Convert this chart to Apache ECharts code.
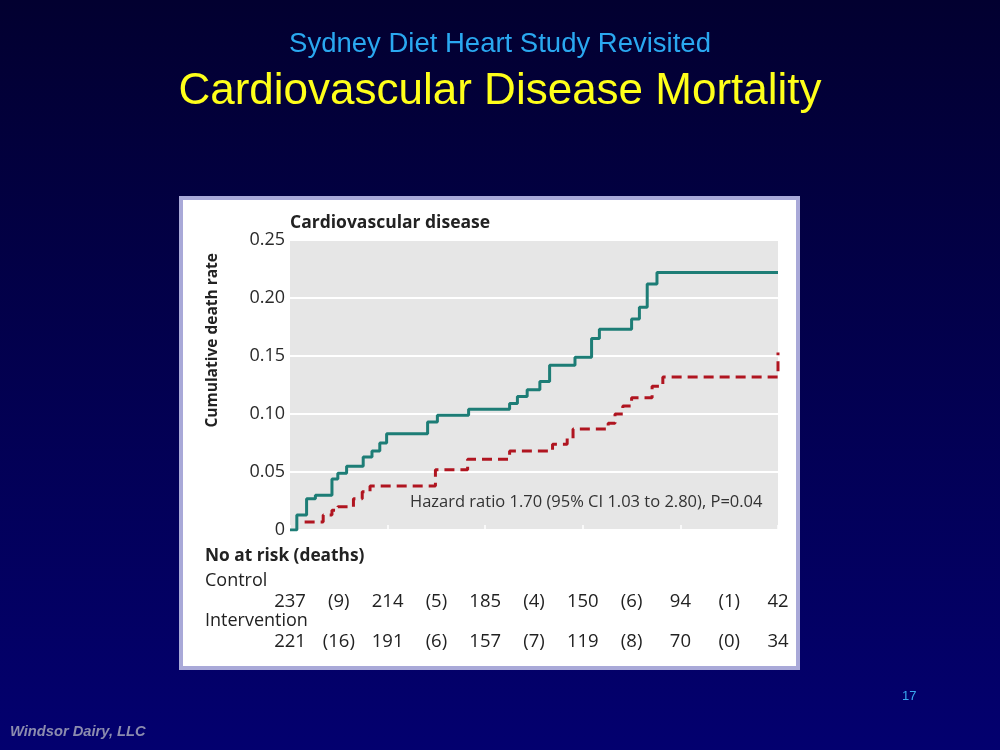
<!DOCTYPE html>
<html>
<head>
<meta charset="utf-8">
<style>
html,body{margin:0;padding:0;width:1000px;height:750px;overflow:hidden;background:#02003a;}
#c{width:1000px;height:750px;}
</style>
<script src="https://cdn.jsdelivr.net/npm/echarts@6/dist/echarts.min.js"></script>
</head>
<body>
<div id="c"></div>
<script>
// Year ticks on x axis
const yearTicks = [0, 1, 2, 3, 4, 5];
const yTickLabels = ['0', '0.05', '0.10', '0.15', '0.20', '0.25'];

// Control group (step points: time in years, cumulative death rate)
const controlT = [0, 0.07, 0.17, 0.26, 0.43, 0.49, 0.58, 0.75, 0.84, 0.92, 0.99, 1.41, 1.51, 1.83, 2.25, 2.33, 2.43, 2.56, 2.66, 2.92, 3.09, 3.17, 3.50, 3.58, 3.66, 3.76, 5.0];
const controlRate = [0, 0.013, 0.027, 0.030, 0.044, 0.049, 0.055, 0.063, 0.068, 0.075, 0.083, 0.093, 0.099, 0.104, 0.109, 0.115, 0.121, 0.128, 0.142, 0.149, 0.165, 0.173, 0.182, 0.192, 0.212, 0.222, 0.222];

// Intervention group
const interT = [0.15, 0.34, 0.43, 0.49, 0.65, 0.74, 0.82, 1.49, 1.82, 2.25, 2.69, 2.84, 2.90, 3.26, 3.33, 3.41, 3.50, 3.71, 3.82, 5.0, 5.0];
const interRate = [0.007, 0.013, 0.017, 0.020, 0.027, 0.033, 0.038, 0.052, 0.061, 0.068, 0.074, 0.079, 0.087, 0.092, 0.100, 0.107, 0.114, 0.124, 0.132, 0.132, 0.153];

// Number at risk (deaths) table
const tablePos = [0, 0.5, 1, 1.5, 2, 2.5, 3, 3.5, 4, 4.5, 5];
const controlRisk = ['237', '(9)', '214', '(5)', '185', '(4)', '150', '(6)', '94', '(1)', '42'];
const interRisk = ['221', '(16)', '191', '(6)', '157', '(7)', '119', '(8)', '70', '(0)', '34'];

const slideTitle = 'Sydney Diet Heart Study Revisited';
const slideMain = 'Cardiovascular Disease Mortality';
const chartTitle = 'Cardiovascular disease';
const yName = 'Cumulative death rate';
const hazardText = 'Hazard ratio 1.70 (95% CI 1.03 to 2.80), P=0.04';

const FONT = '"Open Sans", "Noto Sans", sans-serif';
const chart = echarts.init(document.getElementById('c'), null, {renderer: 'canvas'});

function zip(a, b) { return a.map((v, i) => [v, b[i]]); }

const baseOption = {
  animation: false,
  backgroundColor: 'transparent',
  grid: {left: 290, right: 222, top: 240, bottom: 220, show: true, backgroundColor: '#e6e6e6', borderWidth: 0, containLabel: false},
  xAxis: {
    type: 'value', min: 0, max: 5, interval: 1,
    axisLine: {show: false},
    axisTick: {show: true, inside: true, length: 5, lineStyle: {color: '#ffffff', width: 1.5}},
    axisLabel: {show: false},
    splitLine: {show: false}
  },
  yAxis: {
    type: 'value', min: 0, max: 0.25, interval: 0.05,
    axisLine: {show: false},
    axisTick: {show: false},
    axisLabel: {
      color: '#2a2a2a', fontFamily: FONT, fontSize: 18, margin: 5,
      formatter: function (v) { return yTickLabels[Math.round(v / 0.05)]; }
    },
    splitLine: {show: true, lineStyle: {color: '#ffffff', width: 2}}
  },
  series: [
    {
      name: 'Intervention', type: 'line', step: 'end', showSymbol: false, z: 3,
      data: zip(interT, interRate),
      lineStyle: {color: '#b01520', width: 3, type: [10, 6]}
    },
    {
      name: 'Control', type: 'line', step: 'end', showSymbol: false, z: 4,
      data: zip(controlT, controlRate),
      lineStyle: {color: '#1d7d76', width: 3}
    }
  ]
};
chart.setOption(baseOption);

const g = [
  {type: 'rect', z: -30, shape: {x: 0, y: 0, width: 1000, height: 750},
   style: {fill: new echarts.graphic.LinearGradient(0, 0, 0, 1, [{offset: 0, color: '#020030'}, {offset: 1, color: '#03006f'}])}},
  {type: 'rect', z: -20, shape: {x: 181, y: 198, width: 617, height: 470},
   style: {fill: '#ffffff', stroke: '#a9a9d8', lineWidth: 4}},
  {type: 'text', z: 10, left: 'center', top: 30, style: {text: slideTitle, fill: '#2aa8f0', font: '27.5px "Liberation Sans", Arial, sans-serif'}},
  {type: 'text', z: 10, left: 'center', top: 70, style: {text: slideMain, fill: '#ffff1a', font: '44px "Liberation Sans", Arial, sans-serif'}},
  {type: 'text', z: 10, left: 290, top: 214, style: {text: chartTitle, fill: '#222222', font: 'bold 17.5px ' + FONT}},
  {type: 'text', z: 10, left: 205, top: 253, rotation: Math.PI / 2, style: {text: yName, fill: '#222222', font: 'bold 15.5px ' + FONT}},
  {type: 'text', z: 10, left: 410, top: 494, style: {text: hazardText, fill: '#333333', font: '16.5px ' + FONT}},
  {type: 'text', z: 10, left: 205, top: 548, style: {text: 'No at risk (deaths)', fill: '#222222', font: 'bold 17.3px ' + FONT}},
  {type: 'text', z: 10, left: 205, top: 572, style: {text: 'Control', fill: '#222222', font: '18px ' + FONT}},
  {type: 'text', z: 10, left: 205, top: 612, style: {text: 'Intervention', fill: '#222222', font: '18px ' + FONT}},
  {type: 'text', z: 10, left: 10, top: 724, style: {text: 'Windsor Dairy, LLC', fill: '#8c8cae', font: 'italic bold 14.7px "Liberation Sans", Arial, sans-serif'}},
  {type: 'text', z: 10, left: 902, top: 690, style: {text: '17', fill: '#3aa8f0', font: '13px "Liberation Sans", Arial, sans-serif'}}
];

tablePos.forEach(function (t, i) {
  const px = chart.convertToPixel({xAxisIndex: 0}, t);
  g.push({type: 'text', z: 10, x: px, y: 602, style: {text: controlRisk[i], fill: '#222222', font: '18.5px ' + FONT, align: 'center', verticalAlign: 'middle'}});
  g.push({type: 'text', z: 10, x: px, y: 642, style: {text: interRisk[i], fill: '#222222', font: '18.5px ' + FONT, align: 'center', verticalAlign: 'middle'}});
});

chart.setOption({graphic: {elements: g}});
</script>
</body>
</html>
